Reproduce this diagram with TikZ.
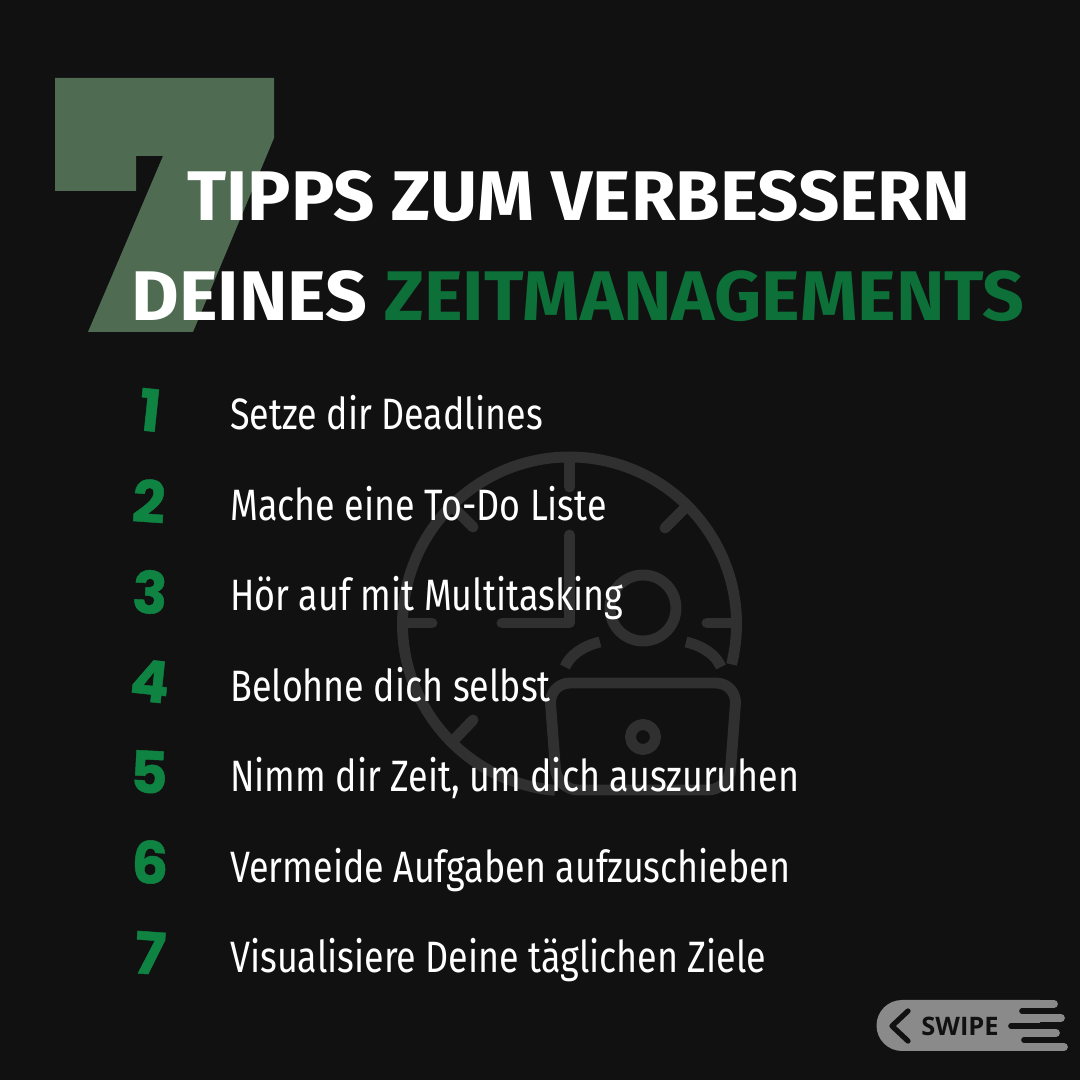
\documentclass[tikz,border=0pt]{standalone}
\usepackage{fontspec}
\usepackage{xcolor}
\setmainfont{Fira Sans}
\newfontfamily\titlefont[FakeStretch=1.03]{Fira Sans}
\newfontfamily\titlefontb[FakeStretch=1.042]{Fira Sans}
\newfontfamily\itemfont[FakeStretch=0.816]{Fira Sans}
\newfontfamily\numfont[BoldFeatures={FakeBold=0.8}]{Poppins}
\newfontfamily\swipefont{Open Sans}
\definecolor{bgDark}{HTML}{111111}
\definecolor{sevenGreen}{HTML}{4F6B52}
\definecolor{titleGreen}{HTML}{0C7038}
\definecolor{numGreen}{HTML}{0F8442}
\definecolor{iconGrey}{HTML}{303030}
\definecolor{swipeGrey}{HTML}{8A8A8A}
\tikzset{
  titleLine/.style = {anchor=base west, inner sep=0pt, text=white, font=\titlefont\fontsize{40}{40}\selectfont\bfseries},
  itemText/.style = {anchor=base west, inner sep=0pt, text=white, font=\itemfont\fontsize{25}{25}\selectfont},
  itemNum/.style = {inner sep=0pt, text=numGreen, font=\numfont\fontsize{33}{33}\selectfont\bfseries},
  iconLine/.style = {draw=iconGrey, line width=6.2pt, line cap=round, line join=round},
  swipeBar/.style = {draw=swipeGrey, line width=4.4pt, line cap=round},
  swipeSlot/.style = {draw=bgDark, line width=3.2pt, line cap=round},
}
\begin{document}
\begin{tikzpicture}[x=0.02cm, y=0.02cm]
\useasboundingbox (0,0) rectangle (1080,1080);
\fill[bgDark] (0,0) rectangle (1080,1080);

% big seven
\fill[sevenGreen] (55,1002) -- (274,1002) -- (274,942) -- (193,748) -- (88,748)
  -- (163,924) -- (136,924) -- (136,889) -- (55,889) -- cycle;

% clock and person
\draw[iconLine, line cap=butt] (569.5,456) ++(-14:167) arc[start angle=-14, end angle=265, radius=167];
\draw[iconLine] (569.5,623) -- (569.5,593);
\draw[iconLine] (736,457) -- (707,457);
\draw[iconLine] (403,457) -- (432,457);
\draw[iconLine] (686,573) -- (665,552);
\draw[iconLine] (453,573) -- (473,553);
\draw[iconLine] (453,339) -- (473,360);
\draw[iconLine] (569.5,545) -- (569.5,457) -- (502,457);
\draw[iconLine] (643,472) circle[radius=33];
\draw[iconLine, line cap=butt] (600,438) .. controls (583,434) and (570,425) .. (565,413);
\draw[iconLine, line cap=butt] (686,438) .. controls (703,434) and (716,425) .. (721,413);
\draw[iconLine, rounded corners=12] (557,290) -- (549,397) -- (737,397) -- (729,290) -- cycle;
\draw[iconLine] (643,343) circle[radius=12.5];

% title
\node[titleLine] (title1) at (187,859) {TIPPS ZUM VERBESSERN};
\node[titleLine] (title2) at (131,759) {\titlefontb\bfseries DEINES \textcolor{titleGreen}{ZEITMANAGEMENTS}};

% list
\foreach \n/\y/\nx/\ny/\rot/\txt in {
  1/650/150/670/-6/Setze dir Deadlines,
  2/559/149/579/-4/Mache eine To-Do Liste,
  3/469/150/488/-3/Hör auf mit Multitasking,
  4/378/150/399/-6/Belohne dich selbst,
  5/288/149/308/-3/{Nimm dir Zeit, um dich auszuruhen},
  6/197/150/218/-3/Vermeide Aufgaben aufzuschieben,
  7/107/150/127/-4/Visualisiere Deine täglichen Ziele}{
  \node[itemNum, rotate=\rot] (num\n) at (\nx,\ny) {\n};
  \node[itemText] (item\n) at (230,\y) {\txt};
}

% swipe badge
\fill[swipeGrey] (1040,80) -- (902,80) arc[start angle=90, end angle=270, radius=25.5]
  -- (1040,29) -- cycle;
\draw[swipeSlot] (1022,69) -- (1070,69);
\draw[swipeSlot] (1011,54) -- (1070,54);
\draw[swipeSlot] (1024,40) -- (1070,40);
\draw[swipeBar] (1030,76) -- (1054,76);
\draw[swipeBar] (1030,62) -- (1061,62);
\draw[swipeBar] (1030,47) -- (1056,47);
\draw[swipeBar] (1030,33) -- (1064,33);
\draw[bgDark, line width=3pt, line cap=round, line join=round] (908,69) -- (892,54) -- (908,39);
\node[anchor=base west, inner sep=0pt, text=bgDark, font=\swipefont\fontsize{14.5}{14.5}\selectfont\bfseries] (swipe) at (921,45) {SWIPE};
\end{tikzpicture}
\end{document}
